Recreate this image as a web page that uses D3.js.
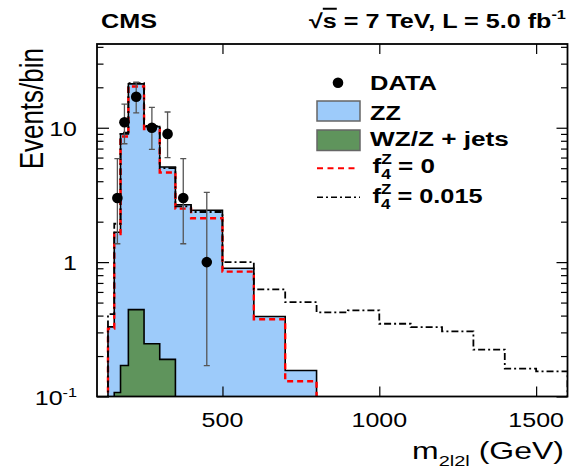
<!DOCTYPE html>
<html>
<head>
<meta charset="utf-8">
<script src="https://cdn.jsdelivr.net/npm/d3@7"></script>
<style>
  body { margin: 0; background: #fff; }
  text { font-family: "Liberation Sans", Arial, sans-serif; fill: #000; }
</style>
</head>
<body>
<svg id="chart" width="580" height="469"></svg>
<script>
// bin edges in GeV (variable width)
const binEdges = [135, 155, 175, 200, 250, 300, 350, 400, 500, 600, 700, 800, 900, 1000, 1100, 1200, 1300, 1400, 1500, 1600];

// ZZ expectation (stacked on the background), black outline + blue fill
const zzTotal = [0.33, 1.67, 9.0, 21.2, 10.2, 5.1, 2.67, 2.43, 0.90, 0.394, 0.156];
// WZ/Z + jets background
const wzZjets = [0, 0.107, 0.17, 0.443, 0.247, 0.189];
// f4Z = 0
const smLine = [0.32, 1.62, 8.6, 20.3, 9.8, 4.65, 2.5, 2.12, 0.85, 0.376, 0.130];
// f4Z = 0.015
const atgcLine = [0.41, 1.93, 9.2, 21.5, 10.3, 5.0, 2.6, 2.36, 1.0, 0.627, 0.504, 0.423, 0.437, 0.348, 0.328, 0.305, 0.223, 0.161, 0.154];

// data points
const dataMass = [165, 187.5, 225, 275, 325, 375, 450];
const dataEvents = [3, 11, 17, 10, 9, 3, 1];
const dataLow = [1.37, 7.6, 12.9, 6.9, 6.0, 1.37, 0.17];
const dataHigh = [5.9, 15.0, 21.8, 14.2, 13.1, 5.9, 3.3];

const xTicks = [500, 1000, 1500];
const yTicks = [0.1, 1, 10];
const yMinor = [0.2, 0.3, 0.4, 0.5, 0.6, 0.7, 0.8, 0.9, 2, 3, 4, 5, 6, 7, 8, 9, 20, 30, 40];

const svg = d3.select('#chart');
const pLeft = 97, pRight = 567.5, pTop = 44, pBottom = 396.5;

const x = d3.scaleLinear().domain([100, 1600]).range([pLeft, pRight]);
const y = d3.scaleLog().domain([0.1, 42]).range([pBottom, pTop]);

const yv = v => v > 0 ? y(v) : pBottom + 6;

svg.append('defs').append('clipPath').attr('id', 'plotclip')
  .append('rect')
  .attr('x', pLeft).attr('y', pTop)
  .attr('width', pRight - pLeft).attr('height', pBottom - pTop);

const plot = svg.append('g').attr('clip-path', 'url(#plotclip)');

// builds a closed step outline for a histogram
function stepPoints(vals) {
  const pts = [[binEdges[0], 0]];
  vals.forEach((v, i) => {
    pts.push([binEdges[i], v]);
    pts.push([binEdges[i + 1], v]);
  });
  pts.push([binEdges[vals.length], 0]);
  return pts;
}

const stepLine = d3.line().x(d => x(d[0])).y(d => yv(d[1]));
const stepArea = d3.area().x(d => x(d[0])).y0(pBottom + 6).y1(d => yv(d[1]));

// ZZ
plot.append('path')
  .attr('d', stepArea(stepPoints(zzTotal)))
  .attr('fill', '#9dcbfa');
plot.append('path')
  .attr('d', stepLine(stepPoints(zzTotal)))
  .attr('fill', 'none').attr('stroke', '#000').attr('stroke-width', 1.6);

// WZ/Z + jets
plot.append('path')
  .attr('d', stepArea(stepPoints(wzZjets)))
  .attr('fill', '#5f945c');
plot.append('path')
  .attr('d', stepLine(stepPoints(wzZjets)))
  .attr('fill', 'none').attr('stroke', '#000').attr('stroke-width', 1.6);

// f4 = 0 (red dashed)
plot.append('path')
  .attr('d', stepLine(stepPoints(smLine)))
  .attr('fill', 'none').attr('stroke', '#ff0000').attr('stroke-width', 2.4)
  .attr('stroke-dasharray', '6,4');

// f4 = 0.015 (dash-dot)
plot.append('path')
  .attr('d', stepLine(stepPoints(atgcLine)))
  .attr('fill', 'none').attr('stroke', '#000').attr('stroke-width', 1.8)
  .attr('stroke-dasharray', '7,3,2,3');

// data
const pts = dataMass.map((m, i) => ({ m, n: dataEvents[i], lo: dataLow[i], hi: dataHigh[i] }));
const err = plot.selectAll('.err').data(pts).join('g').attr('class', 'err')
  .attr('stroke', '#555').attr('stroke-width', 1.3);
err.append('line')
  .attr('x1', d => x(d.m)).attr('x2', d => x(d.m))
  .attr('y1', d => y(d.lo)).attr('y2', d => y(d.hi));
err.append('line')
  .attr('x1', d => x(d.m) - 3).attr('x2', d => x(d.m) + 3)
  .attr('y1', d => y(d.hi)).attr('y2', d => y(d.hi));
err.append('line')
  .attr('x1', d => x(d.m) - 3).attr('x2', d => x(d.m) + 3)
  .attr('y1', d => y(d.lo)).attr('y2', d => y(d.lo));
plot.selectAll('.pt').data(pts).join('circle').attr('class', 'pt')
  .attr('cx', d => x(d.m)).attr('cy', d => y(d.n)).attr('r', 5.3)
  .attr('fill', '#000');

// axes: ticks on all four sides, pointing inward
const axes = svg.append('g');
axes.append('g').attr('transform', `translate(${pLeft},0)`)
  .call(d3.axisLeft(y).tickValues(yTicks).tickSize(-12).tickFormat(''));
axes.append('g').attr('transform', `translate(${pLeft},0)`)
  .call(d3.axisLeft(y).tickValues(yMinor).tickSize(-6.5).tickFormat(''));
axes.append('g').attr('transform', `translate(${pRight},0)`)
  .call(d3.axisRight(y).tickValues(yTicks).tickSize(-11).tickFormat(''));
axes.append('g').attr('transform', `translate(${pRight},0)`)
  .call(d3.axisRight(y).tickValues(yMinor).tickSize(-6.5).tickFormat(''));
axes.append('g').attr('transform', `translate(0,${pBottom})`)
  .call(d3.axisBottom(x).tickValues(xTicks).tickSize(-10).tickFormat(''));
axes.append('g').attr('transform', `translate(0,${pTop})`)
  .call(d3.axisTop(x).tickValues(xTicks).tickSize(-10).tickFormat(''));
axes.selectAll('.domain').remove();
axes.selectAll('.tick line').attr('stroke', '#000').attr('stroke-width', 1.2);

svg.append('rect')
  .attr('x', pLeft).attr('y', pTop)
  .attr('width', pRight - pLeft).attr('height', pBottom - pTop)
  .attr('fill', 'none').attr('stroke', '#000').attr('stroke-width', 1.8);

// tick labels
svg.selectAll('.xlab').data(xTicks).join('text').attr('class', 'xlab')
  .attr('transform', d => `translate(${x(d)},427) scale(1.25,1)`)
  .attr('text-anchor', 'middle').attr('font-size', 20)
  .text(d => d);

const ylab = svg.selectAll('.ylab').data(yTicks).join('text').attr('class', 'ylab')
  .attr('transform', d => `translate(77,${y(d) + 8}) scale(1.25,1)`)
  .attr('text-anchor', 'end').attr('font-size', 20);
ylab.each(function (d) {
  const t = d3.select(this);
  if (d < 1) {
    t.append('tspan').text('10');
    t.append('tspan').attr('font-size', 13).attr('dy', -8).text('-1');
  } else {
    t.text(d);
  }
});

// text stretched to a given width, starting at x
function fitText(x0, yb, width, build) {
  const g = svg.append('g');
  const t = g.append('text');
  build(t);
  const w = t.node().getBBox().width;
  g.attr('transform', `translate(${x0},${yb}) scale(${width / w},1)`);
  return t;
}

// axis titles
fitText(412, 459, 152, t => {
  t.attr('font-size', 24);
  t.append('tspan').text('m');
  t.append('tspan').attr('font-size', 15).attr('dy', 7).text('2l2l');
  t.append('tspan').attr('dy', -7).text(' (GeV)');
});

svg.append('text')
  .attr('transform', 'translate(43,48) scale(1.3,1) rotate(-90)')
  .attr('text-anchor', 'end').attr('font-size', 26)
  .text('Events/bin');

// header
fitText(101, 28, 56, t => {
  t.attr('font-size', 20).attr('font-weight', 'bold').text('CMS');
});
fitText(309, 28, 257, t => {
  t.attr('font-size', 20).attr('font-weight', 'bold');
  t.append('tspan').text('\u221A');
  t.append('tspan').attr('text-decoration', 'overline').text('s');
  t.append('tspan').text(' = 7 TeV, L = 5.0 fb');
  t.append('tspan').attr('font-size', 13).attr('dy', -9).text('-1');
});

// legend
const leg = svg.append('g');
leg.append('circle').attr('cx', 338).attr('cy', 82.7).attr('r', 5.3).attr('fill', '#000');
leg.append('rect').attr('x', 317).attr('y', 101).attr('width', 43).attr('height', 20)
  .attr('fill', '#9dcbfa').attr('stroke', '#666').attr('stroke-width', 1.5);
leg.append('rect').attr('x', 317).attr('y', 130).attr('width', 43).attr('height', 20.5)
  .attr('fill', '#5f945c').attr('stroke', '#666').attr('stroke-width', 1.5);
leg.append('line').attr('x1', 317).attr('x2', 357).attr('y1', 168.3).attr('y2', 168.3)
  .attr('stroke', '#ff0000').attr('stroke-width', 2).attr('stroke-dasharray', '6,4.5');
leg.append('line').attr('x1', 317).attr('x2', 360).attr('y1', 197.3).attr('y2', 197.3)
  .attr('stroke', '#000').attr('stroke-width', 1.6).attr('stroke-dasharray', '6,3,2,3');

fitText(370, 90, 67, t => t.attr('font-size', 21).attr('font-weight', 'bold').text('DATA'));
fitText(370, 120, 31, t => t.attr('font-size', 21).attr('font-weight', 'bold').text('ZZ'));
fitText(370, 146, 139, t => t.attr('font-size', 21).attr('font-weight', 'bold').text('WZ/Z + jets'));

function fLabel(t, val) {
  t.attr('font-size', 21).attr('font-weight', 'bold');
  t.append('tspan').text('f');
  t.append('tspan').attr('font-size', 14).attr('dy', -9).text('Z');
  t.append('tspan').attr('font-size', 14).attr('dx', -8.5).attr('dy', 15).text('4');
  t.append('tspan').attr('dy', -6).text(' = ' + val);
}
fitText(372.5, 173, 62.5, t => fLabel(t, '0'));
fitText(372.5, 203, 110.5, t => fLabel(t, '0.015'));
</script>
</body>
</html>
